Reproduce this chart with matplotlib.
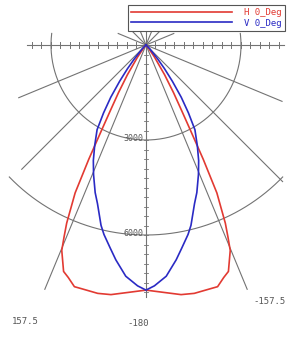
import numpy as np
import matplotlib
matplotlib.use("Agg")
import matplotlib.pyplot as plt

# candela curves, angle from nadir (deg), mirrored to both sides
h_ang = [0, 4, 8, 11, 15, 16.5, 18.5, 20, 22.3, 23.1, 24, 25.6, 26.6, 27.5, 28.5, 30, 32, 35, 40, 45]
h_cd = [7740, 7830, 7960, 7990, 7960, 7960, 7740, 7610, 7010, 6600, 6160, 5180, 4040, 3060, 2370, 1740, 1110, 470, 90, 0]
v_ang = [0, 2, 5, 8, 10, 12.5, 14, 17, 19, 22, 24.5, 27, 30, 32, 34, 36, 38, 40, 45, 50]
v_cd = [7740, 7610, 7330, 6850, 6510, 6130, 5870, 5240, 4930, 4420, 4010, 3570, 3090, 2530, 1990, 1420, 950, 570, 160, 0]
series = [("H 0_Deg", h_ang, h_cd, "#e23a32"), ("V 0_Deg", v_ang, v_cd, "#2a2ac4")]

rings = [3000, 6000]
ring_span = [97, 46]
ring_labels = ["3000", "6000"]
spoke_ang = [0, 22.5, -22.5, 45, -45, 67.5, -67.5, 112.5, -112.5, 135, -135, 157.5, -157.5, 180]
spoke_len = [7950, 8350, 8350, 6100, 5550, 4650, 4350, 950, 950, 750, 750, 650, 650, 550]
angle_labels = ["157.5", "-180", "-157.5"]

K = 3000 / 95.0  # cd per pixel
W, H = 291, 358
CX, CY = 146, 45
GRAY = "#737373"
MONO = "DejaVu Sans Mono"


def px(x, y):
    return (x - CX) * K, (CY - y) * K


def xy(ang, r):
    a = np.radians(np.asarray(ang, dtype=float))
    r = np.asarray(r, dtype=float)
    return r * np.sin(a), -r * np.cos(a)


fig = plt.figure(figsize=(W / 100, H / 100), dpi=100)
ax = fig.add_axes([0, 0, 1, 1])
ax.set_xlim(-CX * K, (W - CX) * K)
ax.set_ylim(-(H - CY) * K, CY * K)
ax.axis("off")

# grid
for r, span, lab in zip(rings, ring_span, ring_labels):
    t = np.linspace(-span, span, 200)
    ax.plot(*xy(t, r), color=GRAY, lw=0.8, zorder=1)
    ax.text(-90, -r + 60, lab, ha="right", va="center", fontsize=6,
            family=MONO, color="#555555", zorder=4)
for a, l in zip(spoke_ang, spoke_len):
    ax.plot(*xy([a, a], [0, l]), color=GRAY, lw=0.8, zorder=1)

ax.plot([-3750, 4350], [0, 0], color=GRAY, lw=0.8, zorder=1)
tk = np.arange(-3600, 4350, 300)
tk = tk[tk != 0]
for t in tk:
    ax.plot([t, t], [-110, 110], color=GRAY, lw=0.7, zorder=1)
for t in np.arange(300, 7950, 300):
    ax.plot([-50, 50], [-t, -t], color=GRAY, lw=0.6, zorder=1)

# curves
handles = []
for name, ang, cd, col in series:
    ang = np.array(ang)
    cd = np.array(cd)
    full_a = np.concatenate([-ang[::-1], ang[1:]])
    full_r = np.concatenate([cd[::-1], cd[1:]])
    ln, = ax.plot(*xy(full_a, full_r), color=col, lw=1.2, label=name, zorder=3)
    handles.append(ln)

# angle labels
for lab, (x, y), ha in zip(angle_labels, [px(12, 321), px(138, 324), px(253, 302)], ["left", "center", "left"]):
    ax.text(x, y, lab, ha=ha, va="center", fontsize=6.5, family=MONO, color="#555555")

leg = ax.legend(handles=handles, loc="upper right", bbox_to_anchor=(285 / W, 1 - 5 / H),
                bbox_transform=fig.transFigure, prop={"family": MONO, "size": 6.5},
                handlelength=11.2, handletextpad=1.3, labelspacing=0.15, borderpad=0.35,
                borderaxespad=0, fancybox=False, framealpha=1, edgecolor="#555555")
leg.get_frame().set_linewidth(0.8)
for txt, (_, _, _, col) in zip(leg.get_texts(), series):
    txt.set_color(col)

fig.savefig("out.png", dpi=100)
